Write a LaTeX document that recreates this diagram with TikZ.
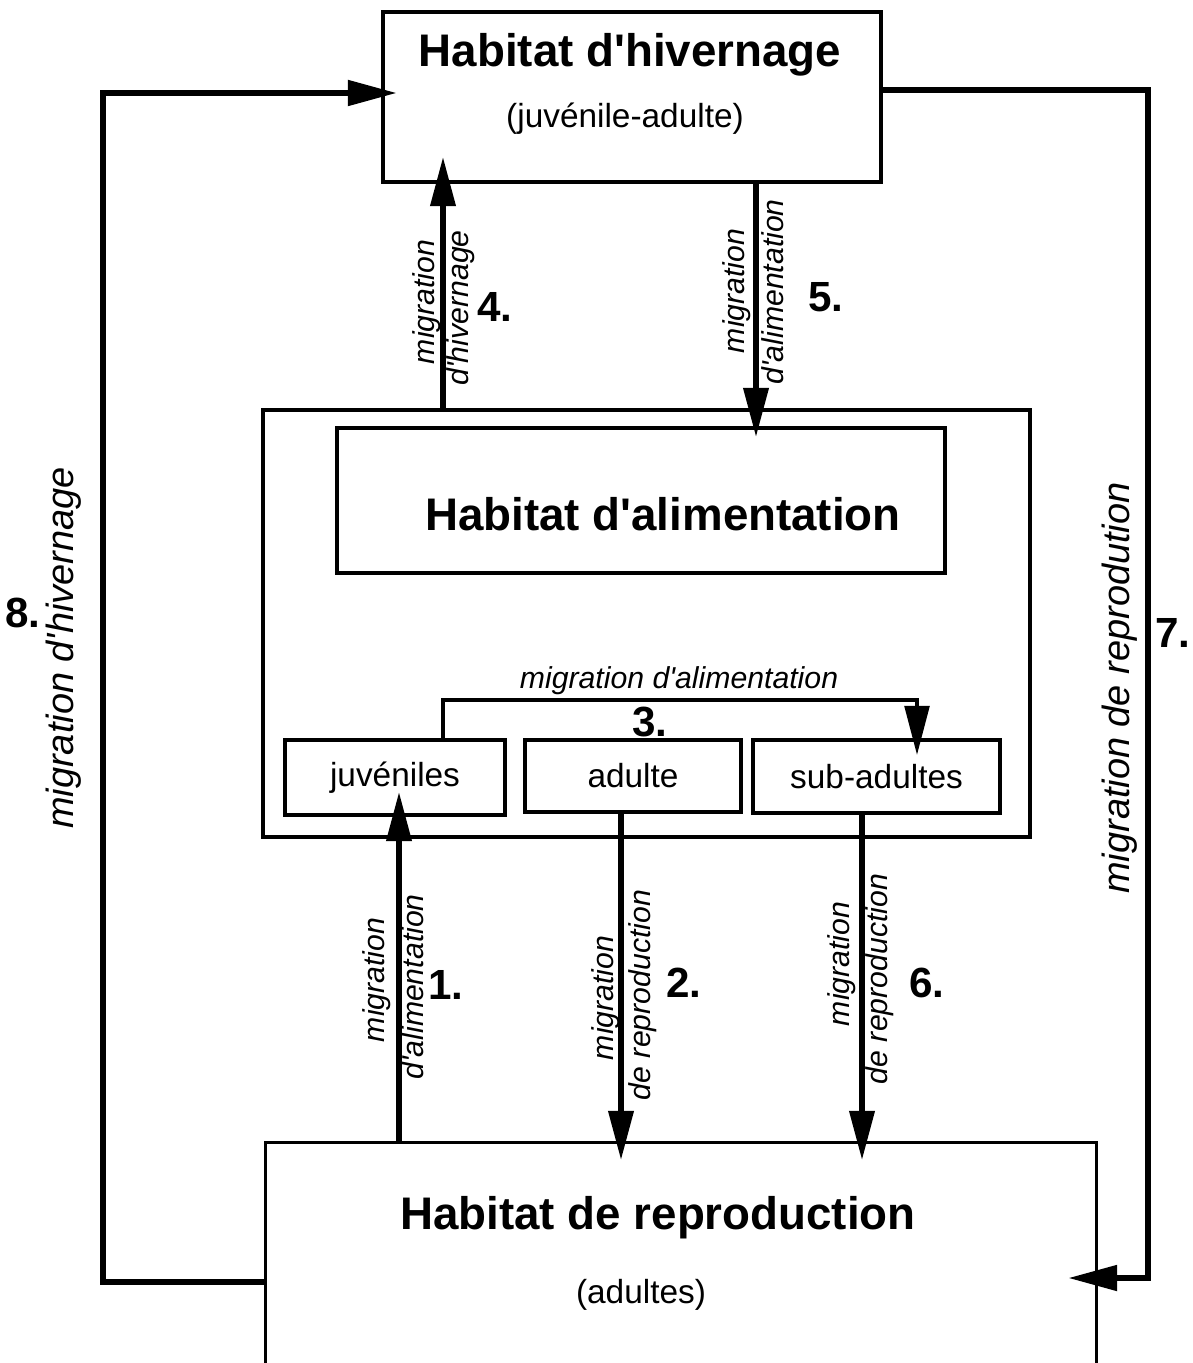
\documentclass[tikz,border=0pt]{standalone}
\usepackage{fontspec}
\setmainfont{Liberation Sans}
\usetikzlibrary{arrows.meta}

\tikzset{
  box/.style={draw, line width=1pt, inner sep=0pt},
  title/.style={font=\bfseries\fontsize{13}{15}\selectfont, anchor=base, inner sep=0pt},
  plain/.style={font=\fontsize{9.5}{11}\selectfont},
  lab/.style={font=\itshape\fontsize{8.6}{10}\selectfont, rotate=90, inner sep=0pt},
  sidelab/.style={font=\itshape\fontsize{10.8}{12}\selectfont, rotate=90, inner sep=0pt},
  num/.style={font=\bfseries\fontsize{12}{14}\selectfont, inner sep=0pt},
  flow/.style={line width=1.5pt, -{Triangle[length=14pt,width=7pt]}},
  loop/.style={line width=1.8pt, -{Triangle[length=14pt,width=7pt]}}
}
\newcommand{\apos}{\textquotesingle}

\begin{document}
\begin{tikzpicture}
\useasboundingbox (0,0) rectangle (11.93,-13.63);
% habitat d'hivernage
\path (6.32,-0.97) node[box, minimum width=4.98cm, minimum height=1.70cm] (hiv){};
\path (6.30,-0.67) node[title] (hivtitle){Habitat d\apos hivernage};
\path (6.25,-1.28) node[plain, anchor=base, inner sep=0pt] (hivsub){(juvénile-adulte)};

% habitat d'alimentation
\path (6.465,-6.235) node[box, minimum width=7.67cm, minimum height=4.27cm] (alim){};
\path (6.41,-5.005) node[box, minimum width=6.08cm, minimum height=1.45cm] (alimin){};
\path (6.63,-5.30) node[title] (alimtitle){Habitat d\apos alimentation};
\path (3.95,-7.775) node[box, plain, minimum width=2.20cm, minimum height=0.75cm] (juv){juvéniles};
\path (6.33,-7.76) node[box, plain, minimum width=2.16cm, minimum height=0.72cm] (adu){adulte};
\path (8.765,-7.765) node[box, plain, minimum width=2.47cm, minimum height=0.73cm] (sub){sub-adultes};

% habitat de reproduction (open at the bottom)
\path (6.81,-12.63) node[minimum width=8.30cm, minimum height=2.40cm] (repro){};
\draw[line width=1pt] (repro.south west) -- (repro.north west) -- (repro.north east) -- (repro.south east);
\path (6.58,-12.29) node[title] (reprotitle){Habitat de reproduction};
\path (6.41,-13.03) node[plain, anchor=base, inner sep=0pt] (reprosub){(adultes)};

% migrations 4. and 5.
\path (4.43,-1.57) coordinate (t4);
\draw[flow] (alim.north -| t4) -- (t4);
\path (4.27,-3.02) node[lab] (m4a){migration};
\path (4.61,-3.08) node[lab] (m4b){d\apos hivernage};
\path (4.95,-3.07) node[num] (n4){4.};
\path (7.56,-4.37) coordinate (t5);
\draw[flow] (hiv.south -| t5) -- (t5);
\path (7.37,-2.91) node[lab] (m5a){migration};
\path (7.73,-2.92) node[lab] (m5b){d\apos alimentation};
\path (8.26,-2.97) node[num] (n5){5.};

% migration 3.
\path (4.43,-7.00) coordinate (k3);
\path (9.17,-7.00) coordinate (k3b);
\path (9.17,-7.55) coordinate (t3);
\draw[flow, line width=1.1pt] (juv.north -| k3) -- (k3) -- (k3b) -- (t3);
\path (6.79,-6.81) node[font=\itshape\fontsize{8.6}{10}\selectfont, inner sep=0pt] (m3){migration d\apos alimentation};
\path (6.50,-7.22) node[num] (n3){3.};

% migrations 1., 2. and 6.
\path (3.99,-7.92) coordinate (t1);
\draw[flow] (repro.north -| t1) -- (t1);
\path (3.77,-9.80) node[lab] (m1a){migration};
\path (4.13,-9.87) node[lab] (m1b){d\apos alimentation};
\path (4.46,-9.85) node[num] (n1){1.};
\path (6.21,-11.60) coordinate (t2);
\draw[flow] (adu.south -| t2) -- (t2);
\path (6.06,-9.98) node[lab] (m2a){migration};
\path (6.43,-9.95) node[lab] (m2b){de reproduction};
\path (6.84,-9.83) node[num] (n2){2.};
\path (8.62,-11.60) coordinate (t6);
\draw[flow] (sub.south -| t6) -- (t6);
\path (8.42,-9.64) node[lab] (m6a){migration};
\path (8.80,-9.79) node[lab] (m6b){de reproduction};
\path (9.27,-9.83) node[num] (n6){6.};

% migrations 8. and 7.
\path (1.03,-12.82) coordinate (c8);
\path (3.97,-0.93) coordinate (t8);
\draw[loop] (repro.west |- c8) -- (c8) |- (t8);
\path (0.64,-6.48) node[sidelab] (m8){migration d\apos hivernage};
\path (0.23,-6.13) node[num] (n8){8.};
\path (11.48,-0.90) coordinate (c7);
\path (10.68,-12.78) coordinate (t7);
\draw[loop] (hiv.east |- c7) -- (c7) |- (t7);
\path (11.20,-6.88) node[sidelab] (m7){migration de reprodution};
\path (11.73,-6.33) node[num] (n7){7.};
\end{tikzpicture}
\end{document}
